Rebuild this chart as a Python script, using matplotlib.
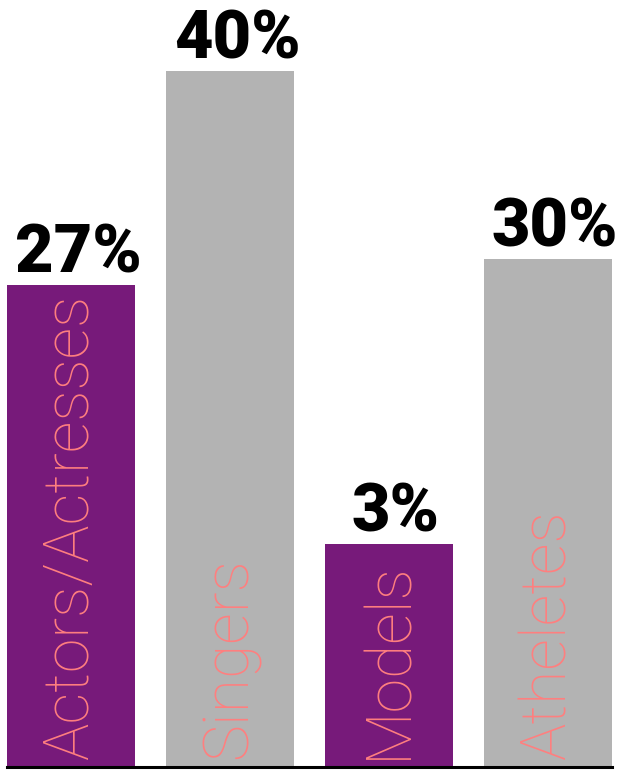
import matplotlib
matplotlib.use("Agg")
import matplotlib.pyplot as plt

categories = ["Actors/Actresses", "Singers", "Models", "Atheletes"]
value_labels = ["27%", "40%", "3%", "30%"]
bar_heights = [27.7, 40.0, 12.8, 29.2]   # as drawn in the picture
bar_colors = ["#771A7A", "#B3B3B3", "#771A7A", "#B3B3B3"]

fig = plt.figure(figsize=(6.25, 7.7), dpi=100)
ax = fig.add_axes([7 / 625, 3 / 770, 605 / 625, 767 / 770])

x = range(len(categories))
bars = ax.bar(x, bar_heights, width=0.805, color=bar_colors)

ax.set_xlim(-0.4025, 3.4025)
ax.set_ylim(0, 40 * 767 / 696)

for b, lab, cat in zip(bars, value_labels, categories):
    cx = b.get_x() + b.get_width() / 2
    ax.annotate(lab, (cx, b.get_height()), xytext=(5, -1), textcoords="offset points",
                ha="center", va="bottom", fontsize=48, fontweight="heavy",
                family=["Roboto", "DejaVu Sans"], color="black")
    ax.annotate(cat, (cx, 0), xytext=(0, 6), textcoords="offset points",
                ha="center", va="bottom", rotation=90, fontsize=45,
                fontweight="light", family=["Roboto", "DejaVu Sans"], color="#FF7F7F")

for s in ["top", "left", "right"]:
    ax.spines[s].set_visible(False)
ax.spines["bottom"].set_linewidth(2.2)
ax.set_xticks([])
ax.set_yticks([])

fig.savefig("out.png", dpi=100)
